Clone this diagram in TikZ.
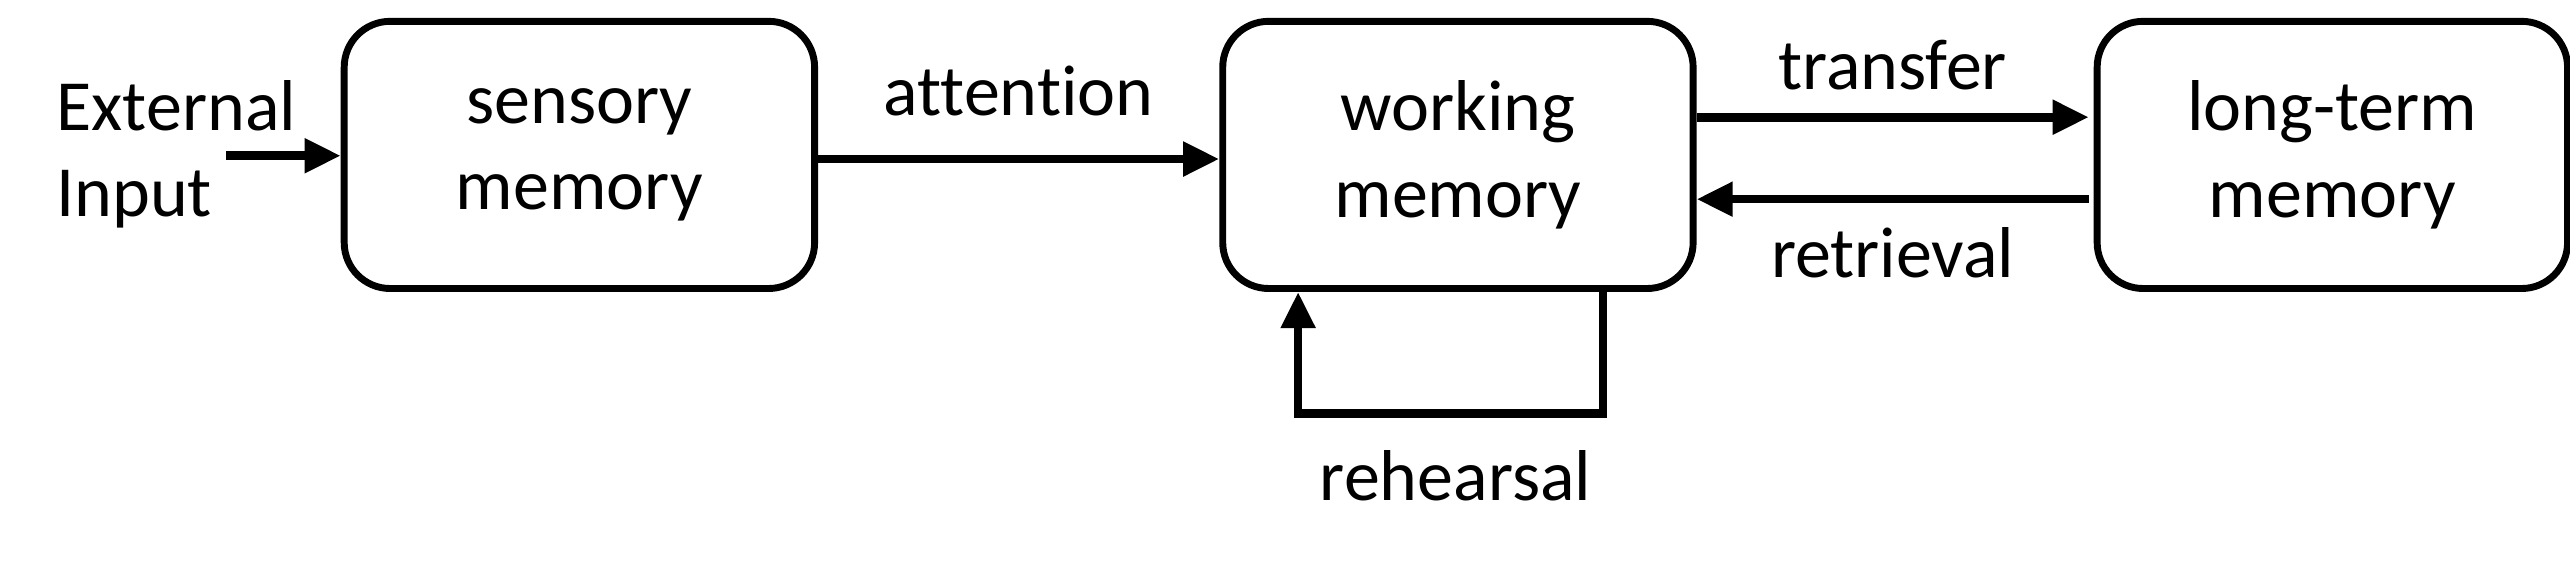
\documentclass[tikz,border=0pt]{standalone}
\usepackage{fontspec}
\setmainfont[Ligatures={NoCommon}]{Carlito}
\usetikzlibrary{positioning,arrows.meta}
\begin{document}
\begin{tikzpicture}[
    mem/.style={draw, line width=1.2pt, rounded corners=0.28cm,
                minimum width=2.87cm, minimum height=1.63cm,
                align=center, font=\fontsize{12.5}{15}\selectfont},
    flow/.style={line width=1.5pt, -{Triangle[length=0.22cm,width=0.2cm]}},
    lbl/.style={font=\fontsize{12.5}{15}\selectfont}
  ]
  \useasboundingbox (0,0) rectangle (15.68,-3.48);

  % boxes
  \node [mem] (sensory)  at (3.535,-0.945) {sensory\\memory};
  \node [mem] (working)  at (8.895,-0.945) {working\\memory};
  \node [mem] (longterm) at (14.23,-0.945) {long-term\\memory};

  % input
  \node [lbl, align=left, anchor=west] (input) at (0.22,-0.94) {External\\Input};
  \coordinate (inend) at (1.38,-0.95);
  \draw [flow] (inend) -- (sensory.west |- inend);

  % attention
  \draw [flow] (sensory.east |- 0,-0.97) -- (working.west |- 0,-0.97)
        node [lbl, midway, above=0.12cm] { attention };

  % transfer / retrieval
  \draw [flow] ([yshift=0.23cm]working.east) -- ([yshift=0.23cm,xshift=-0.03cm]longterm.west)
        node [lbl, midway, above=0.02cm] { transfer };
  \draw [flow] ([yshift=-0.27cm,xshift=-0.03cm]longterm.west) -- ([yshift=-0.27cm]working.east)
        node [lbl, midway, below=0.03cm] { retrieval };

  % rehearsal
  \draw [flow] ([xshift=0.885cm]working.south) -- ++(0,-0.74) coordinate (rh)
        -| ([xshift=-0.975cm]working.south);
  \node [lbl] (rehearsal) at (8.88,-2.9) {rehearsal};

\end{tikzpicture}
\end{document}
